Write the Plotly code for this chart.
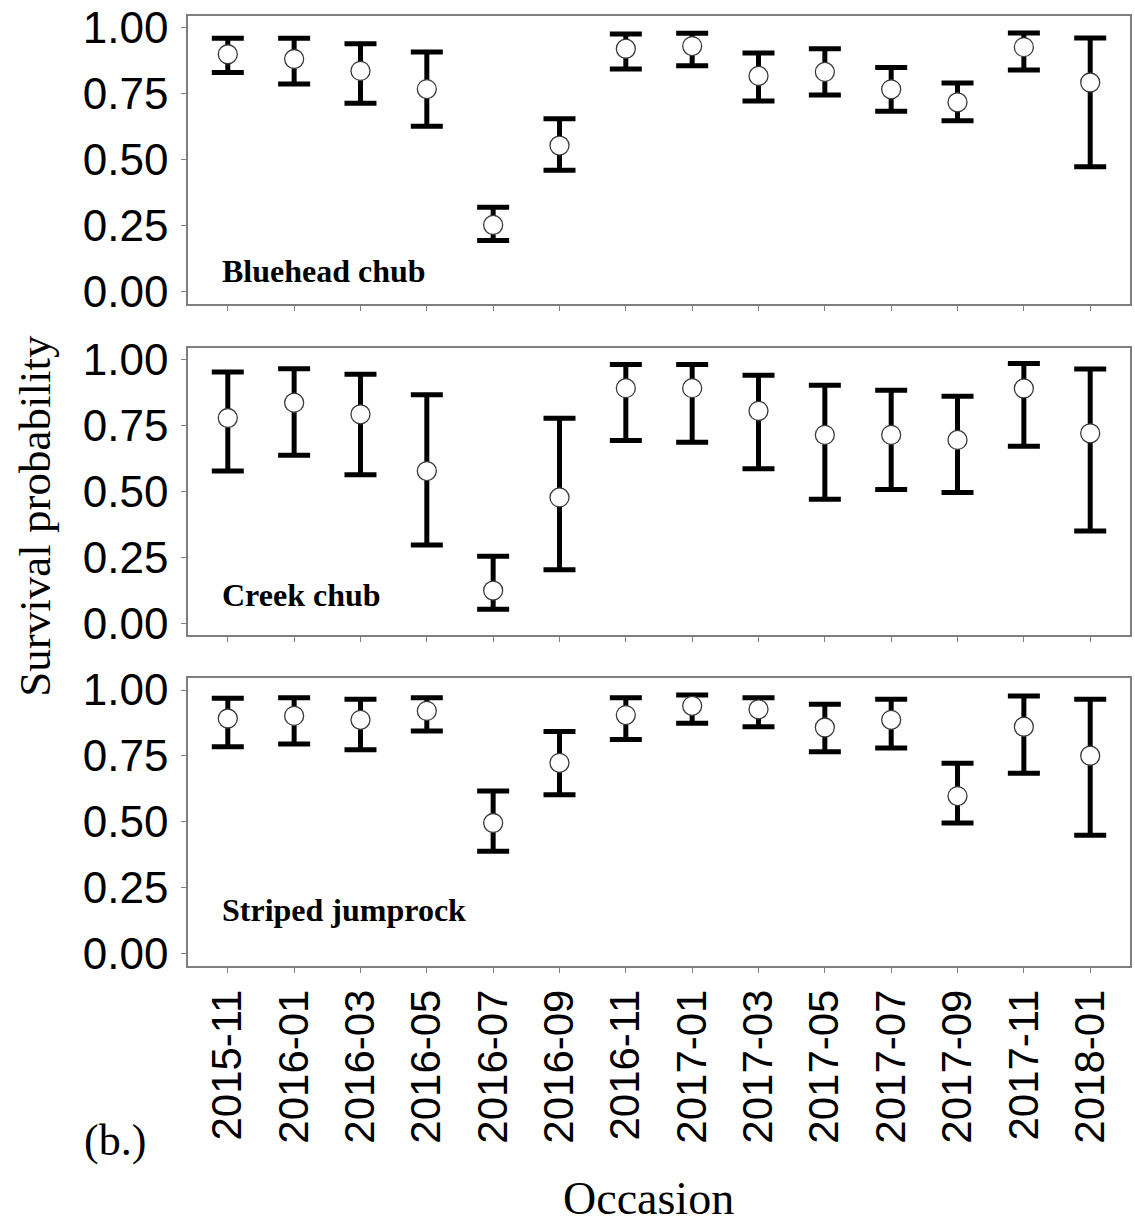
import plotly.graph_objects as go
from plotly.subplots import make_subplots

occasions = ["2015-11", "2016-01", "2016-03", "2016-05", "2016-07", "2016-09", "2016-11",
             "2017-01", "2017-03", "2017-05", "2017-07", "2017-09", "2017-11", "2018-01"]

species = ["Bluehead chub", "Creek chub", "Striped jumprock"]

# Survival estimates with lower / upper confidence limits
bluehead_est = [0.900, 0.882, 0.837, 0.768, 0.253, 0.554, 0.921, 0.931, 0.818, 0.833, 0.767, 0.718, 0.927, 0.793]
bluehead_lcl = [0.831, 0.787, 0.714, 0.627, 0.194, 0.460, 0.844, 0.856, 0.723, 0.746, 0.684, 0.648, 0.840, 0.474]
bluehead_ucl = [0.961, 0.961, 0.940, 0.909, 0.320, 0.656, 0.977, 0.980, 0.905, 0.921, 0.850, 0.791, 0.981, 0.962]

creek_est = [0.778, 0.836, 0.792, 0.577, 0.124, 0.477, 0.891, 0.891, 0.805, 0.714, 0.714, 0.695, 0.890, 0.720]
creek_lcl = [0.577, 0.637, 0.563, 0.297, 0.053, 0.203, 0.693, 0.686, 0.586, 0.470, 0.507, 0.496, 0.671, 0.350]
creek_ucl = [0.952, 0.965, 0.944, 0.866, 0.254, 0.777, 0.981, 0.981, 0.940, 0.902, 0.883, 0.860, 0.985, 0.964]

jumprock_est = [0.892, 0.902, 0.887, 0.921, 0.496, 0.724, 0.905, 0.940, 0.927, 0.858, 0.887, 0.598, 0.861, 0.751]
jumprock_lcl = [0.785, 0.795, 0.774, 0.845, 0.389, 0.603, 0.812, 0.874, 0.861, 0.766, 0.780, 0.496, 0.685, 0.450]
jumprock_ucl = [0.969, 0.971, 0.965, 0.971, 0.617, 0.843, 0.971, 0.981, 0.971, 0.946, 0.965, 0.722, 0.977, 0.965]

y_ticks = [0.0, 0.25, 0.5, 0.75, 1.0]
y_ticktext = ["0.00", "0.25", "0.50", "0.75", "1.00"]

panels = [
    (bluehead_est, bluehead_lcl, bluehead_ucl, 0.078),
    (creek_est, creek_lcl, creek_ucl, 0.109),
    (jumprock_est, jumprock_lcl, jumprock_ucl, 0.167),
]

fig = make_subplots(rows=3, cols=1, vertical_spacing=0.046)

for i, (est, lcl, ucl, label_y) in enumerate(panels):
    row = i + 1
    fig.add_trace(
        go.Scatter(
            x=occasions,
            y=est,
            mode="markers",
            marker=dict(size=19, color="white", line=dict(color="#3a3a3a", width=1.3)),
            error_y=dict(
                type="data",
                symmetric=False,
                array=[u - e for u, e in zip(ucl, est)],
                arrayminus=[e - l for e, l in zip(est, lcl)],
                color="black",
                thickness=5,
                width=16,
            ),
            showlegend=False,
            hoverinfo="skip",
        ),
        row=row, col=1,
    )
    xref = "x" if row == 1 else f"x{row}"
    yref = "y" if row == 1 else f"y{row}"
    fig.add_annotation(
        x=-0.12, y=label_y, xref=xref, yref=yref,
        text=f"<b>{species[i]}</b>", showarrow=False,
        xanchor="left", yanchor="middle",
        font=dict(family="Liberation Serif, Times New Roman, serif", size=32, color="black"),
    )
    fig.update_yaxes(
        row=row, col=1,
        range=[-0.046, 1.045],
        tickvals=y_ticks, ticktext=y_ticktext,
        ticks="outside", ticklen=5, tickwidth=1.3, tickcolor="#7f7f7f",
        showgrid=False, zeroline=False,
        showline=True, linecolor="#7f7f7f", linewidth=1.5, mirror=True,
        tickfont=dict(family="Liberation Sans, Arial, sans-serif", size=44, color="black"),
        ticklabelstandoff=4,
    )
    fig.update_xaxes(
        row=row, col=1,
        type="category",
        categoryorder="array", categoryarray=occasions,
        range=[-0.6, 13.6],
        ticks="outside", ticklen=5, tickwidth=1.3, tickcolor="#7f7f7f",
        showgrid=False, zeroline=False,
        showline=True, linecolor="#7f7f7f", linewidth=1.5, mirror=True,
        showticklabels=(row == 3),
        tickangle=-90,
        tickfont=dict(family="Liberation Sans, Arial, sans-serif", size=42, color="black"),
    )

# Panel domains (paper coordinates)
fig.update_layout(
    yaxis=dict(domain=[0.697, 1.0]),
    yaxis2=dict(domain=[0.348, 0.651]),
    yaxis3=dict(domain=[0.0, 0.303]),
)

serif = "Liberation Serif, Times New Roman, serif"
fig.add_annotation(
    x=-0.162, y=0.4744, xref="paper", yref="paper",
    text="Survival probability", showarrow=False, textangle=-90,
    xanchor="center", yanchor="middle",
    font=dict(family=serif, size=45, color="black"),
)
fig.add_annotation(
    x=0.489, y=-0.2445, xref="paper", yref="paper",
    text="Occasion", showarrow=False,
    xanchor="center", yanchor="middle",
    font=dict(family=serif, size=46, color="black"),
)
fig.add_annotation(
    x=-0.0773, y=-0.184, xref="paper", yref="paper",
    text="(b.)", showarrow=False,
    xanchor="center", yanchor="middle",
    font=dict(family=serif, size=44, color="black"),
)

fig.update_layout(
    width=1135, height=1226,
    margin=dict(l=188, r=3, t=9, b=260),
    plot_bgcolor="white", paper_bgcolor="white",
)

fig.write_html("out.html")
